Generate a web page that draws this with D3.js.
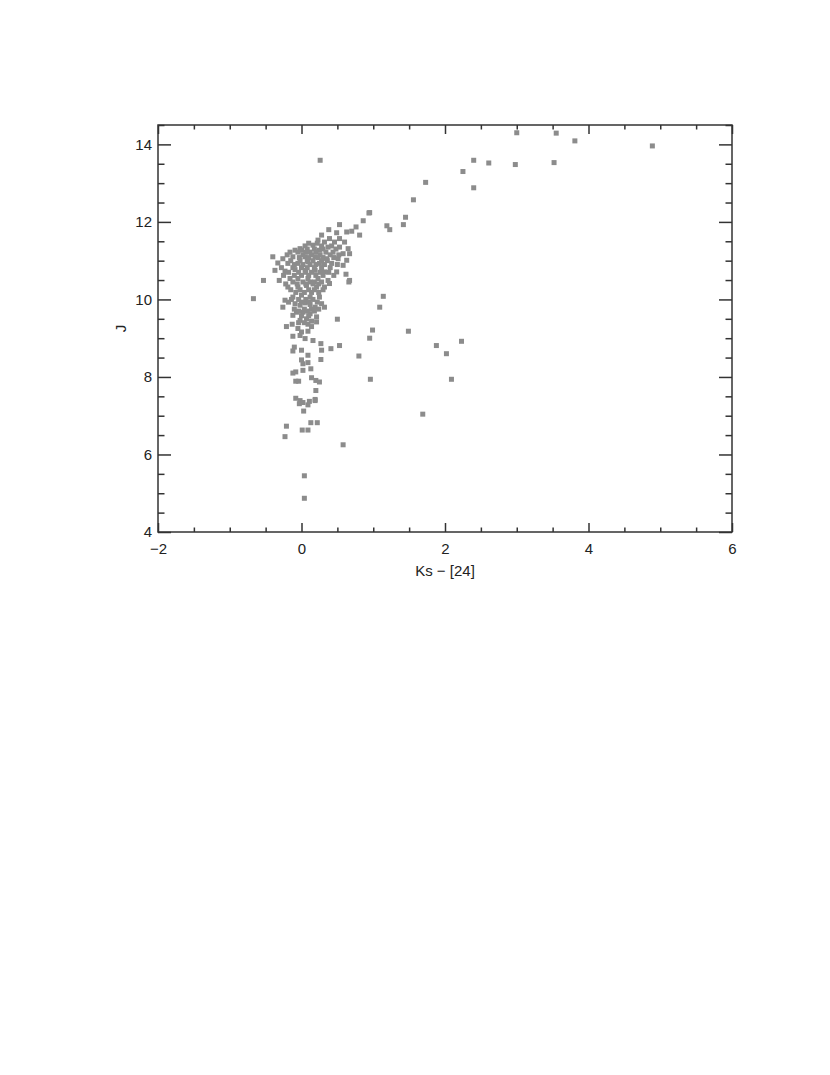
<!DOCTYPE html>
<html>

<head>
  <title>J vs Ks - [24]</title>
  <meta charset="utf-8">
  <script src="https://d3js.org/d3.v7.min.js"></script>
  <style>
    body {
      margin: 0;
      background: #fff;
    }

    text {
      font-family: "Liberation Sans", Helvetica, Arial, sans-serif;
      fill: #222;
    }

    .frame {
      fill: none;
      stroke: #333;
      stroke-width: 1.5px;
    }

    .axis path {
      display: none;
    }

    .axis line {
      stroke: #333;
      stroke-width: 1.5px;
    }

    .axis text {
      font-size: 15px;
    }

    .star {
      fill: #8c8c8c;
    }
  </style>
</head>

<body>
  <svg width="830" height="1075"></svg>
  <script>

    // tick labels
    const xMajor = [-2, 0, 2, 4, 6]
    const yMajor = [4, 6, 8, 10, 12, 14]

    // outliers and the red-giant branch
    const kxOuter = [
      3.55, 3.81, 3.52, 4.89, 3.00, 0.26,
      2.40, 2.61, 2.98, 2.25, 2.40, 1.73, 1.56, 0.95, 1.45, 1.42, 1.19, 1.23,
      0.86, 0.76, 0.66, 0.39, 1.14, 1.09, 0.50, 0.99, 1.49, 0.95, 0.53, 0.41,
      1.88, 2.23, 2.02, 0.80, 0.96, 2.09, 1.69, 0.58,
      -0.67, -0.53, -0.40, -0.37, -0.33, -0.31
    ]
    const jOuter = [
      14.29, 14.09, 13.53, 13.96, 14.30, 13.59,
      13.59, 13.52, 13.48, 13.30, 12.88, 13.02, 12.57, 12.24, 12.12, 11.93, 11.90, 11.80,
      12.03, 11.87, 10.45, 10.41, 10.08, 9.80, 9.49, 9.21, 9.18, 9.00, 8.81, 8.73,
      8.81, 8.92, 8.60, 8.54, 7.94, 7.94, 7.04, 6.25,
      10.02, 10.49, 11.10, 10.75, 10.94, 10.49
    ]

    // lower tail of the cluster
    const kxTail = [
      -0.26, -0.21, -0.13, 0.09, 0.21, 0.00, -0.12, 0.05, 0.16, 0.27,
      -0.10, -0.12, 0.00, 0.28, 0.09, 0.27, 0.00, 0.02, 0.09, 0.13,
      0.02, -0.08, -0.12, -0.08, -0.04, 0.14, 0.20, 0.25, 0.20, -0.08,
      -0.02, 0.02, 0.11, 0.19, -0.03, 0.09, 0.19, 0.03, 0.13, 0.22,
      -0.21, 0.01, 0.09, -0.23, 0.04, 0.04, -0.05, 0.09, -0.02
    ]
    const jTail = [
      9.80, 9.30, 9.36, 9.36, 9.42, 9.16, 9.05, 8.99, 8.94, 8.86,
      8.77, 8.67, 8.69, 8.69, 8.56, 8.45, 8.44, 8.34, 8.37, 8.21,
      8.17, 8.13, 8.10, 7.89, 7.89, 7.98, 7.91, 7.87, 7.65, 7.45,
      7.39, 7.34, 7.37, 7.42, 7.31, 7.28, 7.39, 7.12, 6.82, 6.82,
      6.73, 6.63, 6.63, 6.46, 5.45, 4.87, 9.25, 9.18, 9.07
    ]

    // dense core of the cluster
    const kxCore = [
      0.94, 0.53, 0.38, 0.49, 0.63, 0.70, 0.81, 0.28, 0.39, 0.53,
      0.23, 0.32, 0.46, 0.60, 0.16, 0.37, 0.53, 0.65, -0.02, -0.16,
      -0.09, 0.00, 0.12, 0.25, 0.44, 0.58, 0.67, -0.26, -0.12, 0.05,
      0.19, 0.35, 0.51, 0.63, -0.19, -0.05, 0.09, 0.25, 0.42, 0.58,
      -0.23, -0.09, 0.05, 0.19, 0.32, 0.49, 0.62, 0.67, -0.16, -0.05,
      0.09, 0.23, 0.37, -0.19, -0.05, 0.07, 0.21, 0.32, -0.23, -0.12,
      0.00, 0.12, 0.25, -0.09, -0.02, 0.05, 0.12, 0.19, 0.28, 0.32,
      -0.07, 0.02, 0.12, 0.21, -0.12, 0.07, -0.02, 0.14,
      0.10, 0.22, 0.05, 0.28, 0.42, 0.08, 0.18, 0.30, 0.48, -0.05,
      0.06, 0.20, 0.34, -0.20, 0.02, 0.14, 0.26, 0.40, 0.52, -0.03,
      0.10, 0.23, 0.30, 0.45, -0.15, -0.02, 0.08, 0.16, 0.28, 0.36,
      -0.10, 0.02, 0.12, 0.20, 0.32, 0.50, -0.28, -0.12, 0.00, 0.08,
      0.18, 0.28, 0.40, -0.18, -0.04, 0.06, 0.14, 0.26, 0.38, -0.25,
      -0.10, 0.00, 0.10, 0.20, 0.30, 0.45, -0.12, 0.02, 0.12, 0.18,
      0.28, -0.22, -0.06, 0.06, 0.16, 0.24, -0.15, -0.02, 0.10, 0.18,
      0.30, -0.08, 0.04, 0.14, 0.24, -0.14, -0.04, 0.06, 0.16, -0.18,
      0.00, 0.10, 0.22, -0.10, 0.04, 0.14, 0.24, -0.04, 0.08, 0.18,
      0.00, 0.10, -0.04, 0.04, 0.14
    ]
    const jCore = [
      12.23, 11.93, 11.80, 11.72, 11.74, 11.76, 11.66, 11.66, 11.57, 11.57,
      11.53, 11.48, 11.48, 11.48, 11.40, 11.35, 11.35, 11.31, 11.31, 11.22,
      11.27, 11.27, 11.22, 11.27, 11.22, 11.18, 11.18, 11.05, 11.10, 11.10,
      11.10, 11.05, 11.05, 11.01, 10.93, 10.93, 10.97, 10.93, 10.93, 10.88,
      10.73, 10.77, 10.75, 10.75, 10.71, 10.71, 10.65, 10.49, 10.54, 10.54,
      10.54, 10.54, 10.49, 10.32, 10.32, 10.36, 10.32, 10.32, 9.98, 10.06,
      10.11, 10.06, 10.06, 9.89, 9.85, 9.91, 9.87, 9.80, 9.89, 9.80,
      9.67, 9.67, 9.63, 9.55, 9.59, 9.50, 9.46, 9.44,
      11.45, 11.45, 11.38, 11.38, 11.38, 11.30, 11.30, 11.30, 11.30, 11.22,
      11.22, 11.22, 11.22, 11.15, 11.15, 11.15, 11.15, 11.15, 11.15, 11.08,
      11.08, 11.08, 11.08, 11.08, 11.00, 11.00, 11.00, 11.00, 11.00, 11.00,
      10.90, 10.90, 10.90, 10.90, 10.90, 10.90, 10.82, 10.82, 10.82, 10.82,
      10.82, 10.82, 10.82, 10.70, 10.70, 10.70, 10.70, 10.70, 10.70, 10.62,
      10.62, 10.62, 10.62, 10.62, 10.62, 10.62, 10.45, 10.45, 10.45, 10.45,
      10.45, 10.40, 10.40, 10.40, 10.40, 10.40, 10.25, 10.25, 10.25, 10.25,
      10.25, 10.18, 10.18, 10.18, 10.18, 10.00, 10.00, 10.00, 10.00, 9.93,
      9.93, 9.93, 9.93, 9.75, 9.75, 9.75, 9.75, 9.70, 9.70, 9.70,
      9.58, 9.58, 9.40, 9.40, 9.30
    ]

    const kx = kxOuter.concat(kxTail, kxCore)
    const jmag = jOuter.concat(jTail, jCore)
    const stars = kx.map((d, i) => ({ kx: d, j: jmag[i] }))

    const svg = d3.select("svg")
    const plotL = 158, plotR = 732, plotT = 125, plotB = 532

    const x = d3.scaleLinear().domain([-2, 6]).range([plotL, plotR])
    const y = d3.scaleLinear().domain([4, 14.5]).range([plotB, plotT])

    const xMinor = d3.range(-2, 6.01, 0.5).filter(v => !xMajor.includes(v))
    const yMinor = d3.range(4, 14.51, 0.5).filter(v => !yMajor.includes(v))
    const fmt = d3.format("d")

    svg.append("rect")
      .attr("width", 830)
      .attr("height", 1075)
      .attr("fill", "#fff")

    // bottom and top
    svg.append("g").attr("class", "axis")
      .attr("transform", `translate(0,${plotB})`)
      .call(d3.axisBottom(x).tickValues(xMajor).tickSize(-9).tickPadding(11).tickFormat(fmt))
    svg.append("g").attr("class", "axis")
      .attr("transform", `translate(0,${plotB})`)
      .call(d3.axisBottom(x).tickValues(xMinor).tickSize(-4.5).tickFormat(""))
    svg.append("g").attr("class", "axis")
      .attr("transform", `translate(0,${plotT})`)
      .call(d3.axisTop(x).tickValues(xMajor).tickSize(-9).tickFormat(""))
    svg.append("g").attr("class", "axis")
      .attr("transform", `translate(0,${plotT})`)
      .call(d3.axisTop(x).tickValues(xMinor).tickSize(-4.5).tickFormat(""))

    // left and right
    svg.append("g").attr("class", "axis")
      .attr("transform", `translate(${plotL},0)`)
      .call(d3.axisLeft(y).tickValues(yMajor).tickSize(-13).tickPadding(6).tickFormat(fmt))
    svg.append("g").attr("class", "axis")
      .attr("transform", `translate(${plotL},0)`)
      .call(d3.axisLeft(y).tickValues(yMinor).tickSize(-6.5).tickFormat(""))
    svg.append("g").attr("class", "axis")
      .attr("transform", `translate(${plotR},0)`)
      .call(d3.axisRight(y).tickValues(yMajor).tickSize(-13).tickFormat(""))
    svg.append("g").attr("class", "axis")
      .attr("transform", `translate(${plotR},0)`)
      .call(d3.axisRight(y).tickValues(yMinor).tickSize(-6.5).tickFormat(""))

    svg.append("rect")
      .attr("class", "frame")
      .attr("x", plotL)
      .attr("y", plotT)
      .attr("width", plotR - plotL)
      .attr("height", plotB - plotT)

    svg.append("g")
      .selectAll("rect")
      .data(stars)
      .enter().append("rect")
      .attr("class", "star")
      .attr("x", d => x(d.kx) - 2.5)
      .attr("y", d => y(d.j) - 2.5)
      .attr("width", 5)
      .attr("height", 5)

    svg.append("text")
      .attr("x", (plotL + plotR) / 2)
      .attr("y", 576)
      .attr("text-anchor", "middle")
      .style("font-size", "15px")
      .text("Ks \u2212 [24]")

    svg.append("text")
      .attr("transform", `translate(126,${(plotT + plotB) / 2}) rotate(-90)`)
      .attr("text-anchor", "middle")
      .style("font-size", "15px")
      .text("J")

  </script>
</body>

</html>
